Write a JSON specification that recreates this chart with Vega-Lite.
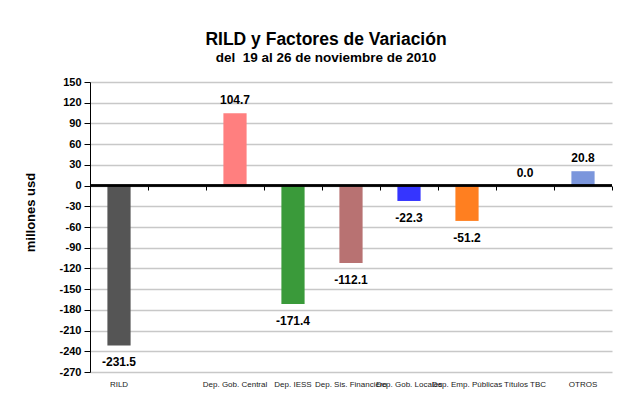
{
  "$schema": "https://vega.github.io/schema/vega-lite/v6.json",
  "autosize": "none",
  "width": 522,
  "height": 290,
  "padding": {"left": 90, "top": 82, "right": 21, "bottom": 45},
  "background": "white",
  "title": {
    "text": "RILD y Factores de Variación",
    "subtitle": "del \u00a019 al 26 de noviembre de 2010",
    "font": "Liberation Sans",
    "fontSize": 17.5,
    "fontWeight": "bold",
    "subtitleFont": "Liberation Sans",
    "subtitleFontSize": 13.5,
    "subtitleFontWeight": "bold",
    "subtitleColor": "#000000",
    "subtitlePadding": 2,
    "color": "#000000",
    "anchor": "middle",
    "dx": -25,
    "offset": 12
  },
  "data": {
    "values": [
      {"categoria": "RILD", "valor": -231.5, "color": "#555555"},
      {"categoria": "Dep. Gob. Central", "valor": 104.7, "color": "#FF7F7F"},
      {"categoria": "Dep. IESS", "valor": -171.4, "color": "#3A9A3A"},
      {"categoria": "Dep. Sis. Financiero", "valor": -112.1, "color": "#B87272"},
      {"categoria": "Dep. Gob. Locales", "valor": -22.3, "color": "#3535FF"},
      {"categoria": "Dep. Emp. Públicas", "valor": -51.2, "color": "#FF7F20"},
      {"categoria": "Títulos TBC", "valor": 0.0, "color": "#808080"},
      {"categoria": "OTROS", "valor": 20.8, "color": "#7B96DC"}
    ]
  },
  "layer": [
    {
      "mark": {"type": "bar", "stroke": null},
      "encoding": {
        "x": {
          "field": "categoria",
          "type": "nominal",
          "sort": null,
          "scale": {
            "domain": ["RILD", " ", "Dep. Gob. Central", "Dep. IESS", "Dep. Sis. Financiero", "Dep. Gob. Locales", "Dep. Emp. Públicas", "Títulos TBC", "OTROS"],
            "paddingInner": 0.6,
            "paddingOuter": 0.3
          },
          "axis": {
            "title": null,
            "orient": "bottom",
            "domain": false,
            "ticks": false,
            "grid": false,
            "labelAngle": 0,
            "labelFont": "Liberation Sans",
            "labelFontSize": 8,
            "labelColor": "#222222",
            "labelOverlap": false,
            "labelLimit": 0,
            "labelBound": false,
            "labelPadding": 8
          }
        },
        "y": {
          "field": "valor",
          "type": "quantitative",
          "scale": {"domain": [-270, 150], "nice": false, "zero": false},
          "axis": {
            "title": "millones usd",
            "titleFont": "Liberation Sans",
            "titleFontSize": 13,
            "titleFontWeight": "bold",
            "titleColor": "#000000",
            "titlePadding": 21,
            "titleY": 130,
            "values": [150, 120, 90, 60, 30, 0, -30, -60, -90, -120, -150, -180, -210, -240, -270],
            "labelOverlap": false,
            "labelFont": "Liberation Sans",
            "labelFontSize": 11,
            "labelFontWeight": "bold",
            "labelColor": "#000000",
            "labelPadding": 3,
            "tickColor": "#000000",
            "tickSize": 6,
            "domainColor": "#000000",
            "domainWidth": 1,
            "gridColor": "#c8c8c8",
            "gridWidth": 1.5
          }
        },
        "color": {"field": "color", "type": "nominal", "scale": null, "legend": null}
      }
    },
    {
      "mark": {"type": "rule", "color": "#000000", "strokeWidth": 1.5},
      "encoding": {
        "y": {"datum": 0, "type": "quantitative", "axis": null}
      }
    },
    {
      "mark": {"type": "tick", "opacity": 0},
      "encoding": {
        "x": {
          "field": "categoria",
          "type": "nominal",
          "sort": null,
          "axis": {
            "title": null,
            "orient": "bottom",
            "labels": false,
            "domain": false,
            "grid": false,
            "ticks": true,
            "tickBand": "center",
            "tickOffset": 29,
            "tickColor": "#000000",
            "tickSize": 4,
            "tickWidth": 1,
            "offset": -186
          }
        },
        "y": {"field": "valor", "type": "quantitative", "axis": null}
      }
    },
    {
      "transform": [{"filter": "datum.valor >= 0"}],
      "mark": {"type": "text", "font": "Liberation Sans", "fontSize": 12, "fontWeight": "bold", "baseline": "middle", "dy": -13, "color": "#000000"},
      "encoding": {
        "x": {"field": "categoria", "type": "nominal", "sort": null, "axis": null},
        "y": {"field": "valor", "type": "quantitative", "axis": null},
        "text": {"field": "valor", "type": "quantitative", "format": ".1f"}
      }
    },
    {
      "transform": [{"filter": "datum.valor < 0"}],
      "mark": {"type": "text", "font": "Liberation Sans", "fontSize": 12, "fontWeight": "bold", "baseline": "middle", "dy": 17, "color": "#000000"},
      "encoding": {
        "x": {"field": "categoria", "type": "nominal", "sort": null, "axis": null},
        "y": {"field": "valor", "type": "quantitative", "axis": null},
        "text": {"field": "valor", "type": "quantitative", "format": ".1f"}
      }
    }
  ],
  "resolve": {"axis": {"x": "independent", "y": "independent"}},
  "config": {
    "view": {"stroke": null},
    "font": "Liberation Sans",
    "locale": {
      "number": {"decimal": ".", "thousands": ",", "grouping": [3], "currency": ["$", ""], "minus": "-"}
    }
  }
}
